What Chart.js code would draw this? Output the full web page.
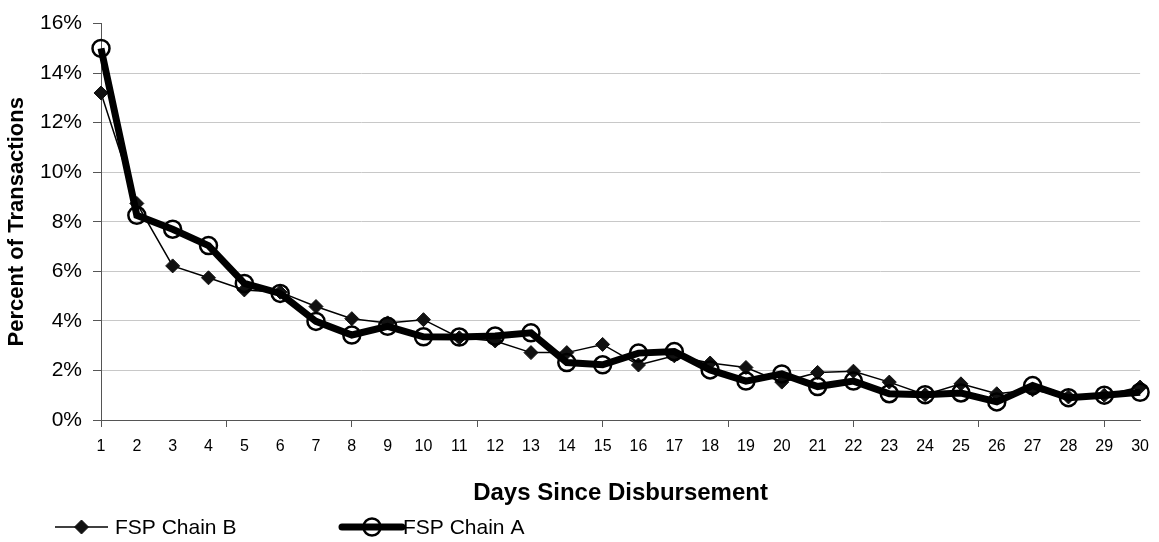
<!DOCTYPE html>
<html>
<head>
<meta charset="utf-8">
<script src="https://cdn.jsdelivr.net/npm/chart.js@4/dist/chart.umd.min.js"></script>
<style>
  html, body { margin: 0; padding: 0; background: #fff; }
  #wrap { width: 1159px; height: 542px; position: relative; }
</style>
</head>
<body>
<div id="wrap"><canvas id="chart"></canvas></div>
<script>
const days = [1,2,3,4,5,6,7,8,9,10,11,12,13,14,15,16,17,18,19,20,21,22,23,24,25,26,27,28,29,30]

// percent of transactions per day
const chainA = [15.0, 8.26, 7.70, 7.04, 5.51, 5.11, 3.98, 3.43, 3.78, 3.36,
                3.35, 3.39, 3.52, 2.32, 2.23, 2.70, 2.76, 2.02, 1.57, 1.86,
                1.35, 1.57, 1.06, 1.02, 1.09, 0.73, 1.39, 0.90, 1.00, 1.12]
const chainB = [13.2, 8.74, 6.22, 5.74, 5.25, 5.16, 4.58, 4.09, 3.92, 4.05,
                3.32, 3.19, 2.72, 2.72, 3.05, 2.22, 2.59, 2.30, 2.12, 1.53,
                1.92, 1.97, 1.53, 1.02, 1.46, 1.06, 1.22, 0.93, 1.00, 1.33]

const yTicks = [0, 2, 4, 6, 8, 10, 12, 14, 16]
const tickEvery = 3.5   // x tick marks fall every 3.5 days

const FONT = "'Liberation Sans', Arial, sans-serif"

function toPoints(vals){
    return vals.map((v, i) => ({ x: days[i], y: v }))
}

// legend: short line sample with the marker in the middle
const legendItems = {
    id: 'legendItems',
    afterDraw(chart){
        const ctx = chart.ctx
        const y = 527
        const items = [
            { ds: chart.data.datasets[0], x0: 55, x1: 108, tx: 115 },
            { ds: chart.data.datasets[1], x0: 342, x1: 402, tx: 403 }
        ]
        ctx.save()
        items.forEach(it => {
            const ds = it.ds
            ctx.beginPath()
            ctx.lineWidth = ds.borderWidth
            ctx.strokeStyle = ds.borderColor
            ctx.lineCap = ds.borderWidth > 3 ? 'round' : 'butt'
            ctx.moveTo(it.x0, y)
            ctx.lineTo(it.x1, y)
            ctx.stroke()
            ctx.fillStyle = ds.pointBackgroundColor
            ctx.strokeStyle = ds.pointBorderColor
            ctx.lineWidth = ds.pointBorderWidth
            Chart.helpers.drawPoint(ctx, {
                pointStyle: ds.pointStyle,
                radius: ds.pointRadius,
                rotation: 0,
                borderWidth: ds.pointBorderWidth
            }, (it.x0 + it.x1) / 2, y)
            ctx.fillStyle = '#000'
            ctx.font = '21px ' + FONT
            ctx.textBaseline = 'middle'
            ctx.textAlign = 'left'
            ctx.fillText(ds.label, it.tx, y + 1)
        })
        ctx.restore()
    }
}

const chart = new Chart(document.getElementById('chart'), {
    type: 'line',
    data: {
        datasets: [{
            label: 'FSP Chain B',
            data: toPoints(chainB),
            borderColor: '#000',
            borderWidth: 1.5,
            pointStyle: 'rectRot',
            pointRadius: 7,
            pointBorderWidth: 1,
            pointBackgroundColor: '#111',
            pointBorderColor: '#111',
            tension: 0,
            clip: false,
            order: 1
        }, {
            label: 'FSP Chain A',
            data: toPoints(chainA),
            borderColor: '#000',
            borderWidth: 7,
            pointStyle: 'circle',
            pointRadius: 8.5,
            pointBorderWidth: 2.5,
            pointBackgroundColor: 'rgba(0,0,0,0)',
            pointBorderColor: '#000',
            tension: 0,
            clip: false,
            order: 0
        }]
    },
    plugins: [legendItems],
    options: {
        responsive: true,
        maintainAspectRatio: false,
        animation: false,
        layout: { padding: { top: 18, right: 15, left: 0, bottom: 0 } },
        plugins: {
            legend: { display: false },
            tooltip: { enabled: false }
        },
        scales: {
            x: {
                type: 'linear',
                min: days[0],
                max: days[days.length - 1],
                afterBuildTicks: scale => {
                    const t = []
                    for (let v = days[0]; v <= days[days.length - 1]; v += 0.5) t.push({ value: v })
                    scale.ticks = t
                },
                afterFit: scale => { scale.height = 122 },
                border: { color: '#555', width: 1 },
                grid: {
                    drawOnChartArea: false,
                    tickLength: 7,
                    tickColor: c => ((c.tick.value - days[0]) % tickEvery === 0) ? '#555' : 'rgba(0,0,0,0)'
                },
                ticks: {
                    autoSkip: false,
                    maxRotation: 0,
                    padding: 10,
                    color: '#000',
                    font: { family: FONT, size: 16 },
                    callback: v => Number.isInteger(v) ? String(v) : ''
                },
                title: {
                    display: true,
                    text: 'Days Since Disbursement',
                    color: '#000',
                    font: { family: FONT, size: 24, weight: 'bold' },
                    padding: { top: 0, bottom: 34 }
                }
            },
            y: {
                min: 0,
                max: 16,
                afterBuildTicks: scale => { scale.ticks = yTicks.map(v => ({ value: v })) },
                afterFit: scale => { scale.width = 101 },
                border: { color: '#555', width: 1 },
                grid: {
                    color: c => (c.tick && (c.tick.value === 0 || c.tick.value === 16)) ? 'rgba(0,0,0,0)' : '#c8c8c8',
                    lineWidth: 1,
                    tickLength: 8,
                    tickColor: '#555'
                },
                ticks: {
                    padding: 11,
                    color: '#000',
                    font: { family: FONT, size: 21 },
                    callback: v => v + '%'
                },
                title: {
                    display: true,
                    text: 'Percent of Transactions',
                    color: '#000',
                    font: { family: FONT, size: 22, weight: 'bold' },
                    padding: { top: 4, bottom: 0 }
                }
            }
        }
    }
})
</script>
</body>
</html>
